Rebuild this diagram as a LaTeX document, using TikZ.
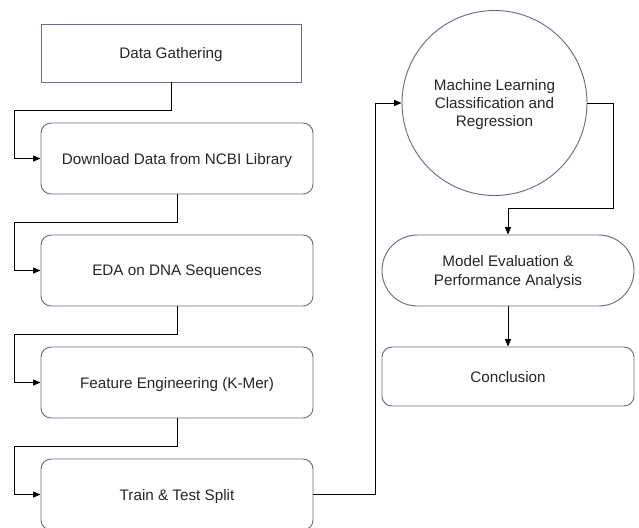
\documentclass[tikz,border=0pt]{standalone}
\usepackage{fontspec}
\setmainfont{Liberation Sans}
\usepackage{tikz}
\usetikzlibrary{positioning,arrows.meta,calc}
\definecolor{edge}{HTML}{6A6D82}
\definecolor{ink}{HTML}{262626}

\begin{document}
\begin{tikzpicture}[
        x=0.03cm, y=-0.03cm,
        stage/.style={rectangle, draw=edge, line width=0.8pt, fill=white,
        text=ink, font=\fontsize{13}{15.5}\selectfont, align=center,
        inner sep=0pt, text depth=0pt},
        roundstage/.style={stage, rounded corners=0.3cm},
        pill/.style={stage, rounded corners=1.06cm},
        model/.style={circle, draw=edge, line width=0.8pt, fill=white,
        text=ink, font=\fontsize{13}{15.5}\selectfont, align=center,
        minimum size=5.55cm, inner sep=0pt, text depth=0pt},
        flow/.style={-{Triangle[length=2.2mm, width=1.8mm]}, line width=0.7pt, black},
      ]
      \useasboundingbox (0, 0) rectangle (639, 527);

      % left column
      \node[stage, minimum width=7.8cm, minimum height=1.74cm] (gather) at (171, 53) {Data Gathering};
      \node[roundstage, minimum width=8.16cm, minimum height=2.13cm] (ncbi) at (177, 158.5) {Download Data from NCBI Library};
      \node[roundstage, minimum width=8.16cm, minimum height=2.13cm] (eda) at (177, 270.5) {EDA on DNA Sequences};
      \node[roundstage, minimum width=8.16cm, minimum height=2.13cm] (kmer) at (177, 382.5) {Feature Engineering (K-Mer)};
      \node[roundstage, minimum width=8.16cm, minimum height=2.13cm] (split) at (177, 494.5) {Train \& Test Split};

      % right column
      \node[model] (ml) at (494.5, 103) {Machine Learning\\Classification and\\Regression};
      \node[pill, minimum width=7.56cm, minimum height=2.13cm] (eval) at (508, 270.5) {Model Evaluation \&\\Performance Analysis};
      \node[roundstage, minimum width=7.56cm, minimum height=1.77cm] (concl) at (508, 376.5) {Conclusion};

      \draw[flow] (gather.south) |- (14, 110) |- (ncbi.west);
      \draw[flow] (ncbi.south) |- (14, 222) |- (eda.west);
      \draw[flow] (eda.south) |- (14, 334) |- (kmer.west);
      \draw[flow] (kmer.south) |- (14, 446) |- (split.west);

      \draw[flow] (split.east) -| (375.5, 103) -- (ml.west);
      \draw[flow] (ml.east) -| (613, 208) -| (eval.north);
      \draw[flow] (eval.south) -- (concl.north);
    \end{tikzpicture}
\end{document}
